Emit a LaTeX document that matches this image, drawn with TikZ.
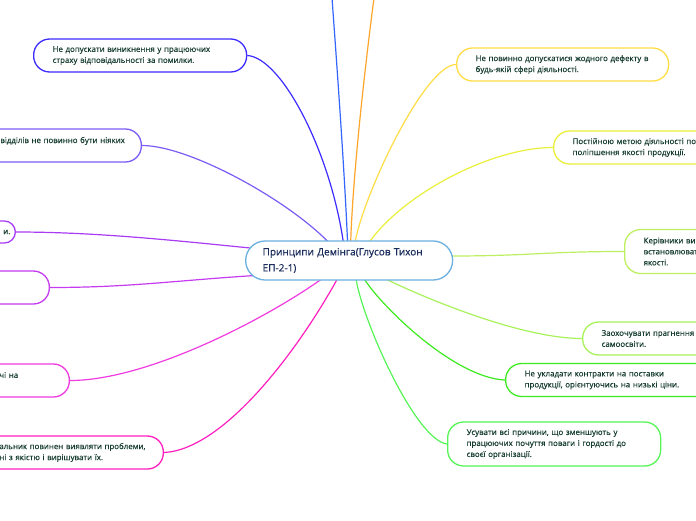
\documentclass[tikz,border=0pt]{standalone}
\usepackage{fontspec}
\setmainfont{Open Sans}
\newfontfamily\childfont{Open Sans}[FakeBold=0.3]
\newfontfamily\centerfont{Open Sans}[FakeBold=0.6]
\usetikzlibrary{calc}
\pgfdeclarelayer{bg}
\pgfsetlayers{bg,main}
\newcommand\lne[1]{\mbox{#1}}
\definecolor{txt}{HTML}{163D30}
\definecolor{ctxt}{HTML}{1A2D5C}
\definecolor{cA}{HTML}{3D2BFF}
\definecolor{cB}{HTML}{7B5CF5}
\definecolor{cC}{HTML}{A93BF5}
\definecolor{cD}{HTML}{C63BF0}
\definecolor{cE}{HTML}{F03BE0}
\definecolor{cF}{HTML}{FF1FC0}
\definecolor{cTop}{HTML}{3366FF}
\definecolor{cOr}{HTML}{FFA52A}
\definecolor{cG}{HTML}{FFDD44}
\definecolor{cH}{HTML}{EAF03A}
\definecolor{cI}{HTML}{BDF060}
\definecolor{cJ}{HTML}{A8F25A}
\definecolor{cK}{HTML}{3DEB1F}
\definecolor{cL}{HTML}{55F555}
\definecolor{cCenter}{HTML}{6BB0E0}
\begin{document}
\begin{tikzpicture}[x=1pt,y=-1pt,
  box/.style={draw=#1, line width=1.3pt, fill=white, rounded corners=16pt,
    align=left, inner xsep=19pt, inner ysep=0pt,
    font=\childfont\fontsize{7.9}{11}\selectfont, text=txt},
  link/.style={draw=#1, line width=1.2pt}]
\useasboundingbox (0,0) rectangle (696,520);
\begin{pgfonlayer}{bg}
\fill[white] (0,0) rectangle (696,520);
\end{pgfonlayer}
\clip (0,0) rectangle (696,520);

% central node
\node[draw=cCenter, line width=1.3pt, fill=white, rounded corners=19.5pt,
  anchor=west, text width=173pt, minimum height=39pt, inner xsep=17pt, inner ysep=0pt,
  align=left, font=\centerfont\fontsize{10}{16}\selectfont, text=ctxt]
  (c) at (245,260.5) {\lne{Принципи Демінга(Глусов Тихон}\\ЕП-2-1)};

% free ends at the top edge
\coordinate (topb) at (332,-2);
\coordinate (topo) at (374,-2);

% child nodes
\node[box=cA, anchor=west, text width=175pt, minimum height=33pt] (n1) at (33,55.5)
  {\lne{Не допускати виникнення у працюючих}\\\lne{страху відповідальності за помилки.}};
\node[box=cB, anchor=east, text width=122pt, minimum height=33pt] (n2) at (142,145.5)
  {\lne{відділів не повинно бути ніяких}\\~};
\node[box=cC, anchor=east, text width=40pt, inner xsep=5pt, align=right, rounded corners=11pt, minimum height=22pt] (n3) at (16,232)
  {и.};
\node[box=cD, anchor=east, minimum width=120pt, minimum height=33pt] (n4) at (50,287.5) {};
\node[box=cE, anchor=east, text width=51pt, minimum height=33pt] (n5) at (70,380.5)
  {чі на\\~};
\node[box=cF, anchor=east, text width=145pt, minimum height=33pt] (n6) at (164,452.5)
  {\lne{альник повинен виявляти проблеми,}\\\lne{ні з якістю і вирішувати їх.}};

\node[box=cG, anchor=west, text width=174pt, minimum height=33pt] (n7) at (456,64.5)
  {\lne{Не повинно допускатися жодного дефекту в}\\\lne{будь-якій сфері діяльності.}};
\node[box=cH, anchor=west, text width=174pt, minimum height=33pt] (n8) at (553,147.5)
  {\lne{Постійною метою діяльності по}\\\lne{поліпшення якості продукції.}};
\node[box=cI, anchor=west, text width=150pt, minimum height=44pt] (n9) at (624,251.5)
  {Керівники ви\\встановлюват\\якості.};
\node[box=cJ, anchor=west, text width=174pt, minimum height=33pt] (n10) at (582,338.5)
  {\lne{Заохочувати прагнення}\\самоосвіти.};
\node[box=cK, anchor=west, text width=175pt, minimum height=33pt] (n11) at (505,380)
  {\lne{Не укладати контракти на поставки}\\\lne{продукції, орієнтуючись на низькі ціни.}};
\node[box=cL, anchor=west, text width=175pt, minimum height=44pt] (n12) at (447,444)
  {\lne{Усувати всі причини, що зменшують у}\\\lne{працюючих почуття поваги і гордості до}\\\lne{своєї організації.}};

% connectors, behind the nodes
\begin{pgfonlayer}{bg}
\path[link=cA] (n1.east) .. controls +(34,2) and +(-13,-93) .. ($(c.center)+(-5.5,-16)$);
\path[link=cB] (n2.east) .. controls +(48,0) and +(-40,-43) .. ($(c.center)+(-18.5,-16)$);
\path[link=cC] (n3.east) .. controls +(80,0) and +(-80,-8) .. ($(c.center)+(-94,-12)$);
\path[link=cD] (n4.east) .. controls +(80,0) and +(-80,5) .. ($(c.center)+(-94,15)$);
\path[link=cE] (n5.east) .. controls +(79,0) and +(-55,40) .. ($(c.center)+(-24,16)$);
\path[link=cF] (n6.east) .. controls +(61,-3) and +(-38,70) .. ($(c.center)+(-10.5,16)$);
\path[link=cTop] (topb) .. controls (338,80) and (345,180) .. ($(c.center)+(-1.5,-16)$);
\path[link=cOr] (topo) .. controls (362,90) and (352,190) .. ($(c.center)+(1.5,-16)$);
\path[link=cG] (n7.west) .. controls +(-31,0) and +(8,-49) .. ($(c.center)+(5.5,-16)$);
\path[link=cH] (n8.west) .. controls +(-63,0) and +(33,-49) .. ($(c.center)+(18.5,-16)$);
\path[link=cI] (n9.west) .. controls +(-80,0) and +(80,0) .. ($(c.center)+(100.5,-4.5)$);
\path[link=cJ] (n10.west) .. controls +(-62,0) and +(40,20) .. ($(c.center)+(31.5,16)$);
\path[link=cK] (n11.west) .. controls +(-50,-2) and +(18,30) .. ($(c.center)+(13.5,16)$);
\path[link=cL] (n12.west) .. controls +(-32,-4) and +(5,40) .. ($(c.center)+(6.5,16)$);
\end{pgfonlayer}
\end{tikzpicture}
\end{document}
